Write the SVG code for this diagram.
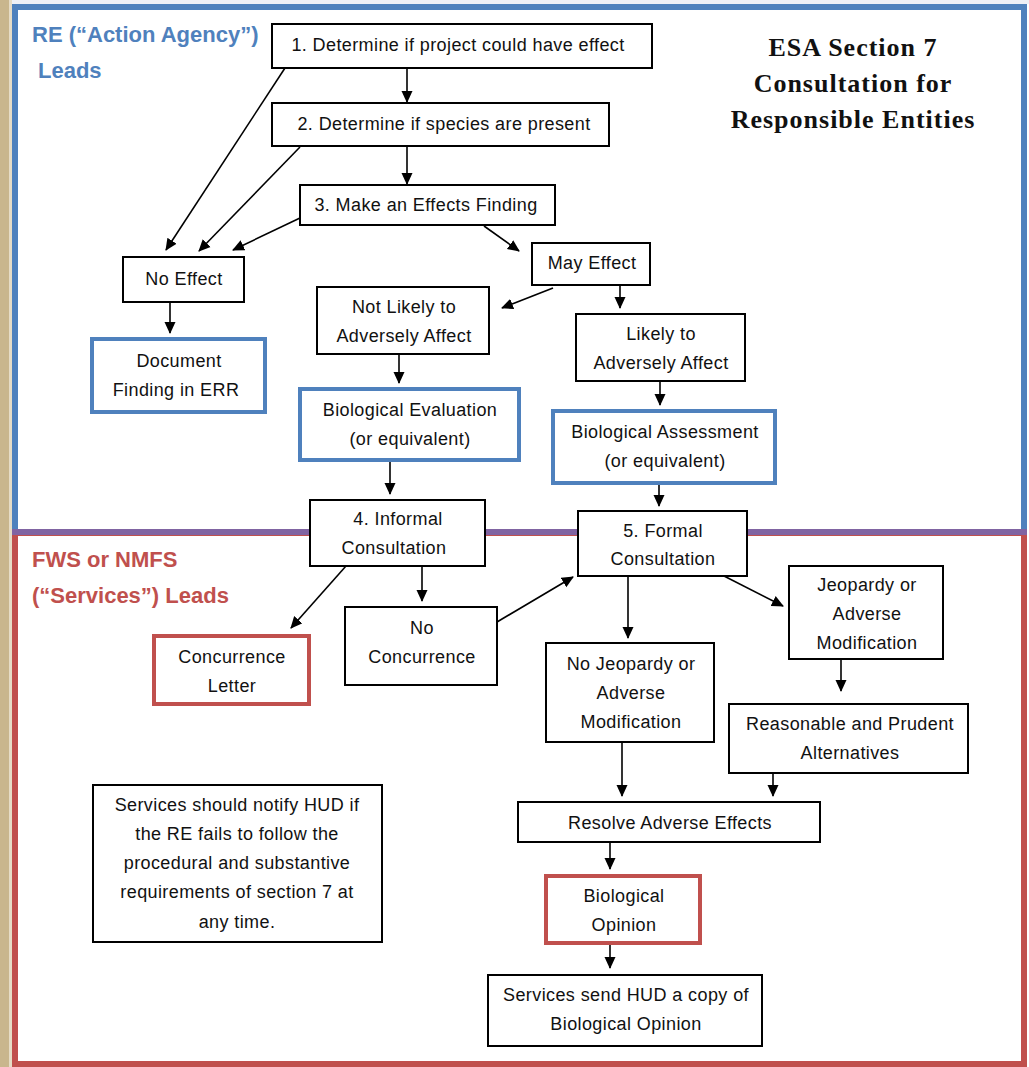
<svg xmlns="http://www.w3.org/2000/svg" width="1029" height="1067" viewBox="0 0 1029 1067">
<defs>
<marker id="ah" markerUnits="userSpaceOnUse" markerWidth="12" markerHeight="12" viewBox="0 0 12 12" refX="11" refY="6" orient="auto">
<path d="M0,0.5 L12,6 L0,11.5 Z" fill="#000"/>
</marker>
<style>
.t{font-family:"Liberation Sans",Arial,sans-serif;font-size:18px;letter-spacing:0.4px;fill:#111;text-anchor:middle}
.b{fill:#fff;stroke:#000;stroke-width:2}
.bb{fill:#fff;stroke:#4f81bd;stroke-width:4}
.rb{fill:#fff;stroke:#c0504d;stroke-width:4}
.c line{stroke:#000;stroke-width:1.6;marker-end:url(#ah)}
.lb{font-family:"Liberation Sans",Arial,sans-serif;font-size:22px;font-weight:bold;fill:#4f81bd}
.lr{font-family:"Liberation Sans",Arial,sans-serif;font-size:22px;font-weight:bold;fill:#c0504d}
.ti{font-family:"Liberation Serif","Times New Roman",serif;font-size:26px;letter-spacing:1px;font-weight:bold;fill:#111;text-anchor:middle}
</style>
</defs>
<rect x="0" y="0" width="1029" height="1067" fill="#eef0f6"/>
<rect x="0" y="0" width="9" height="1067" fill="#c9b68d"/>
<rect x="9" y="0" width="3" height="1067" fill="#e6dcc6"/>
<rect x="12" y="4" width="1017" height="1063" fill="#fff"/>
<rect x="15" y="7" width="1009" height="525" fill="none" stroke="#4f81bd" stroke-width="6"/>
<rect x="15" y="533" width="1009" height="531" fill="none" stroke="#c0504d" stroke-width="6"/>
<line x1="12" y1="532" x2="1027" y2="532" stroke="#8064a2" stroke-width="6"/>

<text class="lb" x="32" y="42">RE (“Action Agency”)</text>
<text class="lb" x="38" y="78">Leads</text>
<text class="lr" x="32" y="567">FWS or NMFS</text>
<text class="lr" x="32" y="603">(“Services”) Leads</text>
<g id="title">
<text class="ti" x="853" y="56">ESA Section 7</text>
<text class="ti" x="853" y="92">Consultation for</text>
<text class="ti" x="853" y="128">Responsible Entities</text>
</g>

<g class="c" id="connectors">
<line x1="407" y1="68" x2="407" y2="102"/>
<line x1="407" y1="146" x2="407" y2="184"/>
<line x1="285" y1="68" x2="166" y2="250"/>
<line x1="300" y1="147" x2="199" y2="251"/>
<line x1="300" y1="218" x2="233" y2="250"/>
<line x1="484" y1="226" x2="519" y2="251"/>
<line x1="553" y1="288" x2="502" y2="308"/>
<line x1="620" y1="285" x2="620" y2="308"/>
<line x1="170" y1="302" x2="170" y2="333"/>
<line x1="399" y1="354" x2="399" y2="383"/>
<line x1="660" y1="381" x2="660" y2="405"/>
<line x1="390" y1="460" x2="390" y2="494"/>
<line x1="659" y1="483" x2="659" y2="506"/>
<line x1="346" y1="566" x2="291" y2="628"/>
<line x1="422" y1="566" x2="422" y2="601"/>
<line x1="497" y1="622" x2="573" y2="577"/>
<line x1="628" y1="576" x2="628" y2="638"/>
<line x1="724" y1="576" x2="783" y2="606"/>
<line x1="841" y1="659" x2="841" y2="691"/>
<line x1="622" y1="742" x2="622" y2="796"/>
<line x1="773" y1="773" x2="773" y2="796"/>
<line x1="610" y1="842" x2="610" y2="869"/>
<line x1="610" y1="943" x2="610" y2="968"/>
</g>

<g id="n1"><rect class="b" x="272" y="24" width="380" height="44"/><text class="t" x="458" y="51">1. Determine if project could have effect</text></g>
<g id="n2"><rect class="b" x="272" y="103" width="337" height="43"/><text class="t" x="444" y="130">2. Determine if species are present</text></g>
<g id="n3"><rect class="b" x="300" y="185" width="255" height="40"/><text class="t" x="426" y="211">3. Make an Effects Finding</text></g>
<g id="noeffect"><rect class="b" x="123" y="257" width="121" height="45"/><text class="t" x="184" y="285">No Effect</text></g>
<g id="mayeffect"><rect class="b" x="532" y="243" width="118" height="42"/><text class="t" x="592" y="269">May Effect</text></g>
<g id="doc"><rect class="bb" x="92" y="339" width="173" height="73"/><text class="t" x="179" y="367">Document</text><text class="t" x="176" y="396">Finding in ERR</text></g>
<g id="nlaa"><rect class="b" x="317" y="287" width="172" height="67"/><text class="t" x="404" y="313">Not Likely to</text><text class="t" x="404" y="342">Adversely Affect</text></g>
<g id="laa"><rect class="b" x="576" y="314" width="169" height="67"/><text class="t" x="661" y="340">Likely to</text><text class="t" x="661" y="369">Adversely Affect</text></g>
<g id="be"><rect class="bb" x="300" y="389" width="219" height="71"/><text class="t" x="410" y="416">Biological Evaluation</text><text class="t" x="410" y="445">(or equivalent)</text></g>
<g id="ba"><rect class="bb" x="553" y="411" width="222" height="72"/><text class="t" x="665" y="438">Biological Assessment</text><text class="t" x="665" y="467">(or equivalent)</text></g>
<g id="n4"><rect class="b" x="310" y="500" width="175" height="66"/><text class="t" x="398" y="525">4. Informal</text><text class="t" x="394" y="554">Consultation</text></g>
<g id="n5"><rect class="b" x="578" y="511" width="169" height="65"/><text class="t" x="663" y="537">5. Formal</text><text class="t" x="663" y="565">Consultation</text></g>
<g id="jeop"><rect class="b" x="789" y="566" width="154" height="93"/><text class="t" x="867" y="591">Jeopardy or</text><text class="t" x="867" y="620">Adverse</text><text class="t" x="867" y="649">Modification</text></g>
<g id="concur"><rect class="rb" x="154" y="636" width="155" height="68"/><text class="t" x="232" y="663">Concurrence</text><text class="t" x="232" y="692">Letter</text></g>
<g id="noconcur"><rect class="b" x="345" y="607" width="152" height="78"/><text class="t" x="422" y="634">No</text><text class="t" x="422" y="663">Concurrence</text></g>
<g id="nojeop"><rect class="b" x="546" y="643" width="168" height="99"/><text class="t" x="631" y="670">No Jeopardy or</text><text class="t" x="631" y="699">Adverse</text><text class="t" x="631" y="728">Modification</text></g>
<g id="rpa"><rect class="b" x="729" y="704" width="239" height="69"/><text class="t" x="850" y="730">Reasonable and Prudent</text><text class="t" x="850" y="759">Alternatives</text></g>
<g id="resolve"><rect class="b" x="518" y="802" width="302" height="40"/><text class="t" x="670" y="829">Resolve Adverse Effects</text></g>
<g id="bo"><rect class="rb" x="546" y="876" width="154" height="67"/><text class="t" x="624" y="902">Biological</text><text class="t" x="624" y="931">Opinion</text></g>
<g id="send"><rect class="b" x="488" y="975" width="274" height="71"/><text class="t" x="626" y="1001">Services send HUD a copy of</text><text class="t" x="626" y="1030">Biological Opinion</text></g>
<g id="notify"><rect class="b" x="93" y="785" width="289" height="157"/>
<text class="t" x="237" y="811">Services should notify HUD if</text>
<text class="t" x="237" y="840">the RE fails to follow the</text>
<text class="t" x="237" y="869">procedural and substantive</text>
<text class="t" x="237" y="898">requirements of section 7 at</text>
<text class="t" x="237" y="928">any time.</text></g>
</svg>
